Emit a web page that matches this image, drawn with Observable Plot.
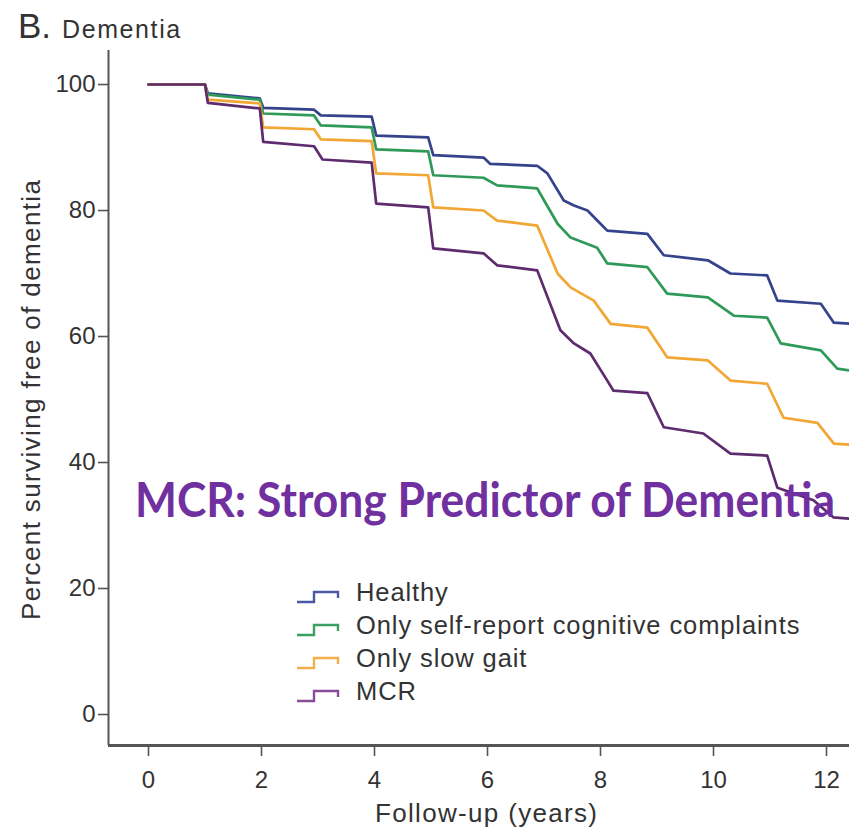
<!DOCTYPE html>
<html>
<head>
<meta charset="utf-8">
<script src="https://cdn.jsdelivr.net/npm/d3@7"></script>
<script src="https://cdn.jsdelivr.net/npm/@observablehq/plot@0.6"></script>
<style>
  html, body { margin: 0; padding: 0; background: #fff; }
  #wrap { position: relative; width: 849px; height: 830px; overflow: hidden; }
  #overlay { position: absolute; left: 0; top: 0; pointer-events: none; }
</style>
</head>
<body>
<div id="wrap"></div>
<script>
// ---- Data ----
const groups = ["Healthy", "Only self-report cognitive complaints", "Only slow gait", "MCR"];
const lineColors = ["#35428c", "#2f9a58", "#f2a634", "#5e2b6e"];
const legendColors = ["#4d58a4", "#3c9f62", "#f1ae4c", "#8a4b9b"];

const healthyT = [0, 1, 1.05, 1.97, 2.03, 2.93, 3.05, 3.95, 4.03, 4.95, 5.04, 5.93, 6.05, 6.88, 7.06, 7.35, 7.53, 7.77, 8.0, 8.12, 8.83, 9.12, 9.9, 10.3, 10.95, 11.13, 11.9, 12.13, 12.5];
const healthyS = [100, 100, 98.6, 97.8, 96.3, 96.0, 95.1, 94.9, 91.9, 91.6, 88.8, 88.4, 87.4, 87.1, 85.9, 81.6, 80.8, 80.0, 77.9, 76.8, 76.3, 72.9, 72.1, 70.0, 69.7, 65.7, 65.2, 62.2, 62.0];

const selfReportT = [0, 1, 1.05, 1.97, 2.03, 2.93, 3.05, 3.95, 4.03, 4.95, 5.04, 5.93, 6.17, 6.88, 7.24, 7.47, 7.94, 8.12, 8.83, 9.18, 9.9, 10.36, 10.95, 11.19, 11.9, 12.19, 12.5];
const selfReportS = [100, 100, 98.4, 97.6, 95.4, 95.1, 93.5, 93.2, 89.7, 89.4, 85.6, 85.2, 84.0, 83.5, 77.9, 75.7, 74.1, 71.6, 71.0, 66.8, 66.2, 63.3, 63.0, 58.9, 57.8, 54.9, 54.5];

const slowGaitT = [0, 1, 1.05, 1.97, 2.03, 2.93, 3.05, 3.95, 4.03, 4.95, 5.04, 5.93, 6.17, 6.88, 7.24, 7.47, 7.88, 8.18, 8.83, 9.18, 9.9, 10.3, 10.95, 11.24, 11.84, 12.13, 12.5];
const slowGaitS = [100, 100, 97.6, 97.0, 93.2, 92.9, 91.3, 91.0, 85.9, 85.6, 80.5, 80.0, 78.4, 77.6, 70.0, 67.8, 65.7, 62.0, 61.4, 56.7, 56.2, 53.0, 52.5, 47.1, 46.3, 43.0, 42.8];

const mcrT = [0, 1, 1.05, 1.97, 2.03, 2.93, 3.08, 3.95, 4.03, 4.95, 5.04, 5.93, 6.17, 6.88, 7.29, 7.53, 7.82, 8.12, 8.23, 8.83, 9.12, 9.82, 10.3, 10.95, 11.13, 11.77, 12.12, 12.5];
const mcrS = [100, 100, 97.1, 96.2, 90.9, 90.2, 88.1, 87.6, 81.1, 80.5, 74.0, 73.2, 71.3, 70.5, 61.0, 58.9, 57.3, 53.0, 51.4, 51.0, 45.6, 44.6, 41.4, 41.1, 36.0, 34.0, 31.3, 31.0];

const xTicks = [0, 2, 4, 6, 8, 10, 12];
const yTicks = [0, 20, 40, 60, 80, 100];
const xDomain = [-0.708, 12.407];
const yDomain = [-4.92, 105.4];

const seriesT = [healthyT, selfReportT, slowGaitT, mcrT];
const seriesS = [healthyS, selfReportS, slowGaitS, mcrS];
const rows = groups.flatMap((g, i) => seriesT[i].map((t, j) => ({group: g, t, s: seriesS[i][j]})));

// ---- Chart ----
const W = 849, H = 830;
const chart = Plot.plot({
  width: W, height: H,
  marginLeft: 108, marginRight: 0, marginTop: 50, marginBottom: 85,
  style: {fontFamily: "'Liberation Sans', Arial, sans-serif", fontSize: "24px", color: "#333", background: "#fff", overflow: "visible"},
  x: {domain: xDomain},
  y: {domain: yDomain},
  color: {domain: groups, range: lineColors},
  marks: [
    Plot.axisY({ticks: yTicks, tickSize: 10, tickPadding: 3, label: null, fontSize: 24, stroke: "#555", strokeWidth: 1.6}),
    Plot.axisX({ticks: xTicks, tickSize: 11, tickPadding: 14, label: null, fontSize: 24, stroke: "#555", strokeWidth: 1.6}),
    Plot.ruleX([xDomain[0]], {stroke: "#555", strokeWidth: 2}),
    Plot.ruleY([yDomain[0]], {stroke: "#555", strokeWidth: 2.8}),
    Plot.line(rows, {x: "t", y: "s", z: "group", stroke: "group", strokeWidth: 2.7, curve: "linear", clip: true, strokeLinejoin: "round"})
  ]
});
const wrap = document.getElementById("wrap");
wrap.appendChild(chart);

// ---- Text overlays: title, axis labels, legend, annotation ----
const ov = d3.create("svg").attr("id", "overlay").attr("width", W).attr("height", H)
  .style("font-family", "'Liberation Sans', Arial, sans-serif").style("fill", "#333");
wrap.appendChild(ov.node());

const title = ov.append("text").attr("x", 18).attr("y", 38);
title.append("tspan").attr("font-size", 35).text("B.");
title.append("tspan").attr("x", 62).attr("font-size", 25).attr("letter-spacing", 1.6).text("Dementia");

ov.append("text").attr("transform", "translate(40,400) rotate(-90)")
  .attr("text-anchor", "middle").attr("font-size", 26)
  .attr("textLength", 440).attr("lengthAdjust", "spacing")
  .text("Percent surviving free of dementia");

ov.append("text").attr("x", 486).attr("y", 822)
  .attr("text-anchor", "middle").attr("font-size", 26)
  .attr("textLength", 222).attr("lengthAdjust", "spacing")
  .text("Follow-up (years)");

const legendBase = [601, 634, 667, 700];
groups.forEach((g, i) => {
  const b = legendBase[i];
  ov.append("path")
    .attr("d", `M297,${b + 1}H314V${b - 9}H338V${b - 3}`)
    .attr("fill", "none").attr("stroke", legendColors[i]).attr("stroke-width", 2.4);
  ov.append("text").attr("x", 356).attr("y", b).attr("font-size", 25.5)
    .attr("letter-spacing", 0.9).text(g);
});

// Annotation: natural Lato Bold text, horizontally scaled to span the same width as the reference
const note = ov.append("g");
const noteText = note.append("text").attr("x", 0).attr("y", 0)
  .attr("font-family", "Lato, 'Open Sans', sans-serif").attr("font-weight", 700)
  .attr("font-size", 48).style("fill", "#7030a0")
  .text("MCR: Strong Predictor of Dementia");
const natural = noteText.node().getComputedTextLength();
const sx = 700 / natural;
note.attr("transform", `translate(135,517) scale(${sx},1)`);
</script>
</body>
</html>
